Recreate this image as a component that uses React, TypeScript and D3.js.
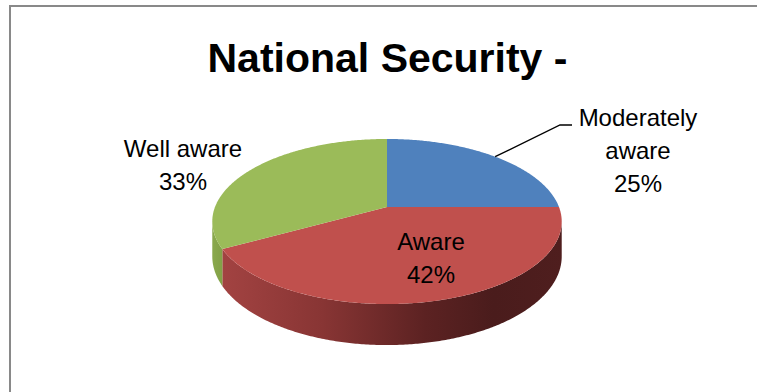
import React, { useEffect } from "react";
import * as d3 from "d3";

const categories = ["Moderately aware", "Aware", "Well aware"];
const values = [25, 42, 33];
const labelLines = [["Moderately", "aware", "25%"], ["Aware", "42%"], ["Well aware", "33%"]];
const topColors = ["#4f81bd", "#c0504d", "#9bbb59"];
const title = "National Security -";

// layout
const W = 757, H = 392;
const CX = 387, A = 172, K = 0.1758, AY = 43.6, BY = 207, DEPTH = 33.8;
const labelPos: [number, number][] = [[638, 126], [431, 250], [183, 157]];
const lineGap = 33;

function proj(theta: number, r: number, h: number): [number, number] {
  const X = r * Math.sin(theta);
  const Y = -r * Math.cos(theta);
  const w = 1 - K * Y;
  return [CX + (A * X) / w, (AY * Y + BY) / w + h / w];
}

function rim(a: number, b: number, h: number): [number, number][] {
  const n = Math.max(2, Math.ceil(Math.abs(b - a) / 0.01));
  return d3.range(n + 1).map((i) => proj(a + ((b - a) * i) / n, 1, h));
}

export default function App() {
  useEffect(() => {
    document.body.style.margin = "0";
    document.body.style.overflow = "hidden";
    document.documentElement.style.overflow = "hidden";
  }, []);
  const arcs = d3.pie<number>().sort(null).value((d) => d)(values);
  const line = d3.line();
  const center = proj(0, 0, 0);
  const t1 = Math.acos(-K);
  const t2 = 2 * Math.PI - t1;

  const sides = arcs.map((s, i) => {
    const a = Math.max(s.startAngle, t1);
    const b = Math.min(s.endAngle, t2);
    if (b <= a) return null;
    const pts = [...rim(a, b, 0), ...rim(a, b, DEPTH).reverse()];
    return <path key={"s" + i} d={line(pts) + "Z"} fill={`url(#side${i})`} />;
  });

  const tops = arcs.map((s, i) => {
    const pts = [center, ...rim(s.startAngle, s.endAngle, 0)];
    return <path key={"t" + i} d={line(pts) + "Z"} fill={topColors[i]} />;
  });

  const mid0 = (arcs[0].startAngle + arcs[0].endAngle) / 2;
  const lead = proj(mid0, 1, 0);
  const leader: [number, number][] = [lead, [560, 125], [572, 125]];

  return (
    <svg width={W} height={H} style={{ position: "absolute", left: 0, top: 0, background: "#fff", display: "block" }}
      fontFamily="'Liberation Sans', Arial, sans-serif">
      <defs>
        <linearGradient id="side1" gradientUnits="userSpaceOnUse" x1={220} x2={562} y1={0} y2={0}>
          <stop offset="0" stopColor="#a34342" />
          <stop offset="0.3" stopColor="#883534" />
          <stop offset="0.6" stopColor="#5c2222" />
          <stop offset="0.8" stopColor="#4a1c1c" />
          <stop offset="1" stopColor="#4f1e1e" />
        </linearGradient>
        <linearGradient id="side2" gradientUnits="userSpaceOnUse" x1={212} x2={230} y1={0} y2={0}>
          <stop offset="0" stopColor="#8aa94d" />
          <stop offset="1" stopColor="#7c9a42" />
        </linearGradient>
        <linearGradient id="side0" gradientUnits="userSpaceOnUse" x1={212} x2={562} y1={0} y2={0}>
          <stop offset="0" stopColor="#3d6494" />
          <stop offset="1" stopColor="#2c4a70" />
        </linearGradient>
      </defs>
      <path d="M10,392V6H757" fill="none" stroke="#898989" strokeWidth={2} />
      <text x={387.5} y={72} textAnchor="middle" fontWeight="bold" fontSize={41} fill="#000">{title}</text>
      {sides}
      {tops}
      <path d={line(leader) ?? ""} fill="none" stroke="#000" strokeWidth={1.3} />
      {labelLines.map((lines, i) => (
        <text key={"l" + i} x={labelPos[i][0]} y={labelPos[i][1]} textAnchor="middle" fontSize={24} fill="#000">
          {lines.map((t, j) => (
            <tspan key={j} x={labelPos[i][0]} y={labelPos[i][1] + j * lineGap}>{t}</tspan>
          ))}
        </text>
      ))}
    </svg>
  );
}
